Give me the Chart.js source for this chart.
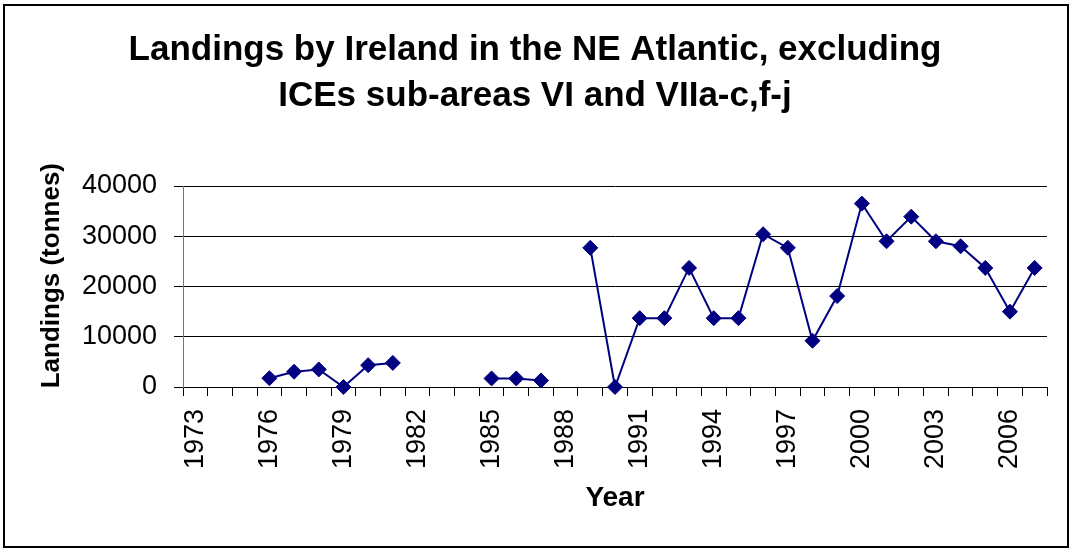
<!DOCTYPE html>
<html>
<head>
<meta charset="utf-8">
<script src="https://cdn.jsdelivr.net/npm/chart.js@4.4.1/dist/chart.umd.min.js"></script>
<style>
    body { margin: 0; background: #fff; }
    #frame { position: absolute; left: 3px; top: 4px; width: 1062px; height: 540px; border: 2px solid #000; }
    #landingsChart { position: absolute; left: 0; top: 0; }
</style>
</head>
<body>
<div id="frame"></div>
<canvas id="landingsChart" width="1072" height="552"></canvas>
<script>
'use strict';

/** Irish landings, NE Atlantic */

const years = [
    '1973', '1974', '1975', '1976', '1977', '1978', '1979', '1980', '1981', '1982',
    '1983', '1984', '1985', '1986', '1987', '1988', '1989', '1990', '1991', '1992',
    '1993', '1994', '1995', '1996', '1997', '1998', '1999', '2000', '2001', '2002',
    '2003', '2004', '2005', '2006', '2007',
];
// tonnes, null = no data for that year
const landings = [
    null, null, null, 1750, 3050, 3500, 0, 4350, 4800, null,
    null, null, 1700, 1700, 1300, null, 27700, 0, 13700, 13700,
    23700, 13700, 13700, 30400, 27700, 9200, 18100, 36500, 29000, 33900,
    29000, 28000, 23700, 15000, 23700,
];
const labelledYears = ['1973', '1976', '1979', '1982', '1985', '1988', '1991', '1994', '1997', '2000', '2003', '2006'];
const titleLines = ['Landings by Ireland in the NE Atlantic, excluding', 'ICEs sub-areas VI and VIIa-c,f-j'];

const landingsCtx = document.getElementById('landingsChart').getContext('2d');
const FONT = "'Liberation Sans', Arial, sans-serif";

const landingsChart = new Chart(landingsCtx, {
    type: 'line',
    data: {
        labels: years,
        datasets: [
            {
                label: 'Landings',
                data: landings,
                borderColor: '#000080',
                borderWidth: 2,
                backgroundColor: '#000080',
                pointStyle: 'rectRot',
                pointRadius: 7.5,
                pointBorderWidth: 1,
                pointBackgroundColor: '#000080',
                pointBorderColor: '#000080',
                spanGaps: false,
                tension: 0,
                clip: false,
            },
        ],
    },
    options: {
        responsive: false,
        animation: false,
        devicePixelRatio: 1,
        events: [],
        layout: {
            padding: { left: 12, right: 14, top: 0, bottom: 0 },
        },
        plugins: {
            legend: { display: false },
            tooltip: { enabled: false },
            title: {
                display: true,
                text: titleLines,
                color: '#000',
                font: { family: FONT, size: 35, weight: 'bold', lineHeight: 46 / 35 },
                padding: { top: 27, bottom: 67 },
            },
        },
        scales: {
            x: {
                type: 'category',
                offset: true,
                afterFit: (scale) => {
                    scale.height = 165;
                    // keep the plot reaching x = 1047 like the original
                    scale.paddingRight = 25;
                },
                grid: {
                    display: true,
                    drawOnChartArea: false,
                    drawTicks: true,
                    tickLength: 9,
                    offset: true,
                    color: '#000',
                },
                border: { display: true, color: '#000', width: 1 },
                ticks: {
                    autoSkip: false,
                    maxRotation: 90,
                    minRotation: 90,
                    padding: 13,
                    color: '#000',
                    font: { family: FONT, size: 27 },
                    callback: (value, index) => (labelledYears.includes(years[index]) ? years[index] : ''),
                },
                title: {
                    display: true,
                    text: 'Year',
                    color: '#000',
                    font: { family: FONT, size: 28, weight: 'bold' },
                    padding: { top: 0, bottom: 37 },
                },
            },
            y: {
                min: 0,
                max: 40000,
                afterFit: (scale) => {
                    scale.width = 171;
                },
                grid: {
                    color: '#000',
                    drawTicks: true,
                    tickLength: 9,
                },
                border: { display: true, color: '#777', width: 1 },
                ticks: {
                    stepSize: 10000,
                    padding: 17,
                    color: '#000',
                    font: { family: FONT, size: 27 },
                    callback: (value) => String(value),
                },
                title: {
                    display: true,
                    // leading spaces lift the centred label a little, as in the original
                    text: '   Landings (tonnes)',
                    color: '#000',
                    font: { family: FONT, size: 26, weight: 'bold' },
                    padding: { top: 24, bottom: 0 },
                },
            },
        },
    },
});
</script>
</body>
</html>
